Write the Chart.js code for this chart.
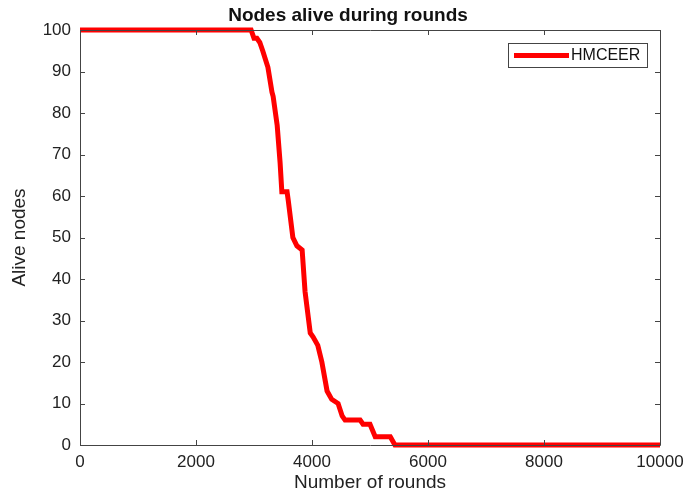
<!DOCTYPE html>
<html>
<head>
<meta charset="utf-8">
<script src="https://cdn.jsdelivr.net/npm/chart.js@4.4.0/dist/chart.umd.min.js"></script>
<style>
html,body{margin:0;padding:0;background:#fff;}
#wrap{width:684px;height:497px;}
</style>
</head>
<body>
<div id="wrap"><canvas id="c" width="684" height="497"></canvas></div>
<script>
const seriesLabel = "HMCEER";
const rounds = [0, 2950, 3000, 3050, 3100, 3150, 3240, 3310, 3330, 3400, 3450, 3480, 3570, 3590, 3670, 3740, 3830, 3880, 3970, 4020, 4100, 4170, 4260, 4340, 4450, 4520, 4570, 4830, 4880, 5000, 5090, 5350, 5430, 10000];
const alive  = [100, 100, 98, 98, 97, 95, 91, 85, 84, 77, 68, 61, 61, 59, 50, 48, 47, 37, 27, 26, 24, 20, 13, 11, 10, 7, 6, 6, 5, 5, 2, 2, 0, 0];
const xTicks = [0, 2000, 4000, 6000, 8000, 10000];
const yTicks = [0, 10, 20, 30, 40, 50, 60, 70, 80, 90, 100];
const chartTitle = "Nodes alive during rounds";
const xTitle = "Number of rounds";
const yTitle = "Alive nodes";

const FONT = "'Liberation Sans', Arial, Helvetica, sans-serif";

const boxPlugin = {
  id: 'boxPlugin',
  afterDraw(chart) {
    const ctx = chart.ctx;
    const a = chart.chartArea;
    const xs = chart.scales.x, ys = chart.scales.y;
    ctx.save();
    // title
    ctx.fillStyle = '#111';
    ctx.font = "bold 19px " + FONT;
    ctx.textAlign = 'center';
    ctx.textBaseline = 'middle';
    ctx.fillText(chartTitle, 348, 16);
    ctx.strokeStyle = '#444';
    ctx.lineWidth = 1;
    ctx.beginPath();
    ctx.rect(Math.round(a.left)+0.5, Math.round(a.top)+0.5, Math.round(a.right-a.left), Math.round(a.bottom-a.top));
    ctx.stroke();
    const tl = 5;
    ctx.beginPath();
    xTicks.forEach(v => {
      const px = Math.round(xs.getPixelForValue(v)) + 0.5;
      ctx.moveTo(px, a.bottom); ctx.lineTo(px, a.bottom - tl);
      ctx.moveTo(px, a.top); ctx.lineTo(px, a.top + tl);
    });
    yTicks.forEach(v => {
      const py = Math.round(ys.getPixelForValue(v)) + 0.5;
      ctx.moveTo(a.left, py); ctx.lineTo(a.left + tl, py);
      ctx.moveTo(a.right, py); ctx.lineTo(a.right - tl, py);
    });
    ctx.stroke();
    // legend
    const lx = 508, ly = 43, lw = 139, lh = 24;
    ctx.fillStyle = '#fff';
    ctx.fillRect(lx, ly, lw, lh);
    ctx.strokeStyle = '#444';
    ctx.strokeRect(lx + 0.5, ly + 0.5, lw, lh);
    ctx.strokeStyle = '#ff0000';
    ctx.lineWidth = 5;
    ctx.beginPath();
    ctx.moveTo(514, ly + lh/2 + 0.5); ctx.lineTo(569, ly + lh/2 + 0.5);
    ctx.stroke();
    ctx.fillStyle = '#111';
    ctx.font = "16px " + FONT;
    ctx.textBaseline = 'middle';
    ctx.textAlign = 'left';
    ctx.fillText(chart.data.datasets[0].label, 571, ly + lh/2 + 1);
    ctx.restore();
  }
};

new Chart(document.getElementById('c'), {
  type: 'scatter',
  data: {
    datasets: [{
      label: seriesLabel,
      data: rounds.map((r, i) => ({x: r, y: alive[i]})),
      showLine: true,
      borderColor: '#ff0000',
      backgroundColor: '#ff0000',
      borderWidth: 5,
      pointRadius: 0,
      tension: 0,
      borderJoinStyle: 'miter',
      clip: false
    }]
  },
  options: {
    responsive: false,
    animation: false,
    devicePixelRatio: 1,
    layout: {padding: {left: 0, right: 24, top: 30, bottom: 0}},
    plugins: {
      legend: {display: false},
      tooltip: {enabled: false},
      title: {display: false}
    },
    scales: {
      x: {
        type: 'linear',
        min: 0, max: 10000,
        afterBuildTicks: s => { s.ticks = xTicks.map(v => ({value: v})); },
        afterFit: s => { s.height = 52; s.paddingLeft = 0; s.paddingRight = 0; },
        grid: {display: false, drawTicks: false},
        border: {display: false},
        ticks: {color: '#222', font: {family: FONT, size: 17}, padding: 7, maxRotation: 0,
                callback: v => String(v)},
        title: {display: true, text: xTitle, color: '#222', font: {family: FONT, size: 19}, padding: {top: 0, bottom: 3}}
      },
      y: {
        type: 'linear',
        min: 0, max: 100,
        afterBuildTicks: s => { s.ticks = yTicks.map(v => ({value: v})); },
        afterFit: s => { s.width = 80; s.paddingTop = 0; s.paddingBottom = 0; },
        grid: {display: false, drawTicks: false},
        border: {display: false},
        ticks: {color: '#222', font: {family: FONT, size: 17}, padding: 9,
                callback: v => String(v)},
        title: {display: true, text: yTitle, color: '#222', font: {family: FONT, size: 19}, padding: {top: 8, bottom: 0}}
      }
    }
  },
  plugins: [boxPlugin]
});
</script>
</body>
</html>
